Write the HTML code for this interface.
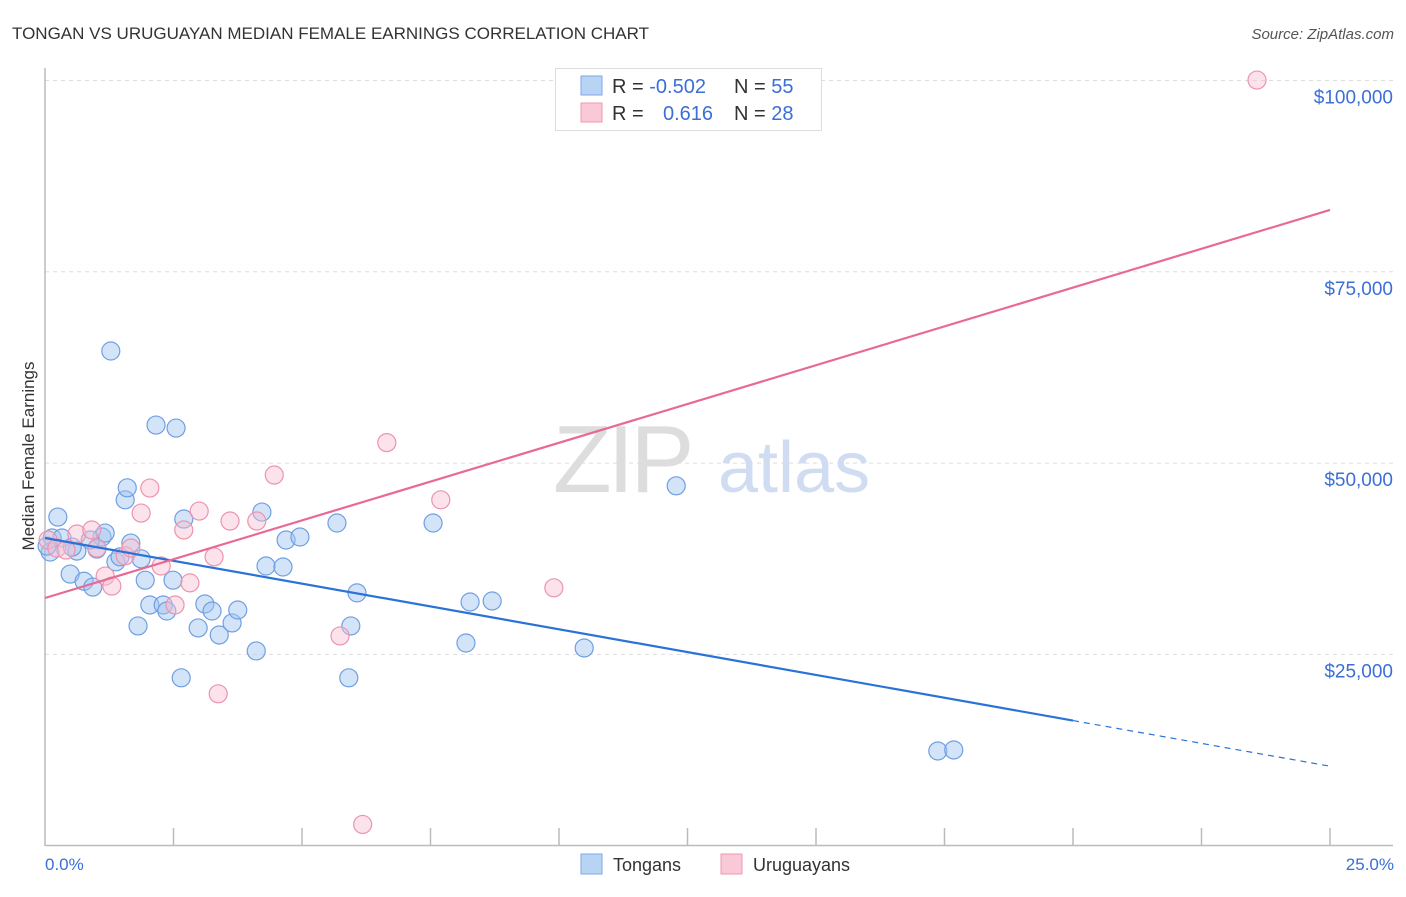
<!DOCTYPE html>
<html><head><meta charset="utf-8"><style>
body{margin:0;background:#fff;font-family:"Liberation Sans",sans-serif;}
svg text{font-family:"Liberation Sans",sans-serif;}
</style></head><body>
<svg id="chart" width="1406" height="892" viewBox="0 0 1406 892" xmlns="http://www.w3.org/2000/svg">
<text x="12" y="39" font-size="17" fill="#333">TONGAN VS URUGUAYAN MEDIAN FEMALE EARNINGS CORRELATION CHART</text>
<text x="1394" y="39" font-size="15" fill="#555" font-style="italic" text-anchor="end">Source: ZipAtlas.com</text>
<g id="grid"></g>
<g>
<text x="553" y="492" font-size="96" fill="#ddd" font-family="Liberation Serif" letter-spacing="-4">ZIP</text>
<text x="718" y="492" font-size="72" fill="#cfdcf2">atlas</text>
</g>
<line x1="45" y1="68" x2="45" y2="846" stroke="#bbb" stroke-width="1.5"/>
<line x1="45" y1="845.5" x2="1393" y2="845.5" stroke="#bbb" stroke-width="1.5"/>
<g id="xticks"></g>
<g id="ylabels"></g>
<text transform="translate(34,456) rotate(-90)" font-size="17" fill="#333" text-anchor="middle">Median Female Earnings</text>
<text x="45" y="870" font-size="17" fill="#3b6fd6">0.0%</text>
<text x="1394" y="870" font-size="17" fill="#3b6fd6" text-anchor="end">25.0%</text>
<g id="points"></g>
<g id="lines"></g>
<g>
<rect x="555.5" y="68.5" width="266" height="62" fill="#fff" stroke="#ddd"/>
<rect x="581" y="76" width="21" height="19" fill="#b9d3f5" stroke="#7ea7e6"/>
<rect x="581" y="103" width="21" height="19" fill="#f9c9d7" stroke="#ee97b0"/>
<text x="612" y="93" font-size="20" fill="#333">R = <tspan fill="#3b6fd6">-0.502</tspan></text>
<text x="734" y="93" font-size="20" fill="#333">N = <tspan fill="#3b6fd6">55</tspan></text>
<text x="612" y="120" font-size="20" fill="#333">R =</text>
<text x="663" y="120" font-size="20" fill="#3b6fd6">0.616</text>
<text x="734" y="120" font-size="20" fill="#333">N = <tspan fill="#3b6fd6">28</tspan></text>
</g>
<g>
<rect x="581" y="854" width="21" height="20" fill="#b9d3f5" stroke="#7ea7e6"/>
<text x="613" y="871" font-size="18" fill="#333">Tongans</text>
<rect x="721" y="854" width="21" height="20" fill="#f9c9d7" stroke="#ee97b0"/>
<text x="753" y="871" font-size="18" fill="#333">Uruguayans</text>
</g>
</svg>
<script>
const yTicks=[25000,50000,75000,100000];
const yTickLabels=["$25,000","$50,000","$75,000","$100,000"];
const xTicks=[2.5,5,7.5,10,12.5,15,17.5,20,22.5,25];
const tonganX=[0.14,0.25,0.10,0.33,0.49,0.62,0.76,0.93,1.01,1.11,1.17,1.28,1.38,1.46,1.56,1.60,1.67,1.81,1.87,1.95,2.04,2.16,2.30,2.37,2.49,2.55,2.65,2.70,2.98,3.11,3.25,3.39,3.64,3.75,4.11,4.22,4.30,4.63,4.69,4.96,5.68,5.91,5.95,6.07,7.55,8.19,8.27,8.70,10.49,12.28,17.37,17.68,0.04,0.53,0.88];
const tonganY=[40210,42950,38380,40210,35500,38500,34560,33800,38770,40340,40860,64650,37100,37750,45200,46770,39550,28720,37490,34700,31460,54970,31460,30670,34700,54580,21940,42690,28460,31590,30670,27540,29110,30800,25450,43600,36550,36420,39950,40340,42170,21940,28720,33040,42170,26490,31850,31980,25840,47030,12380,12510,39160,39030,39950];
const uruX=[0.06,0.23,0.41,0.62,0.91,1.01,1.17,1.30,1.56,1.67,1.87,2.04,2.26,2.53,2.70,2.82,3.00,3.29,3.37,3.60,4.12,4.46,5.74,6.18,6.65,7.70,9.90,23.58];
const uruY=[39950,38900,38640,40730,41260,38900,35240,33930,37880,38900,43470,46740,36550,31460,41260,34350,43730,37750,19850,42430,42430,48440,27410,2780,52680,45200,33700,100060];
const tonganFit=[40210,10390]; // at x=0 and x=25
const uruFit=[32370,83080];
const X=v=>45+v/25*1285;
const Y=v=>845.7-v/25000*191.3;
const NS="http://www.w3.org/2000/svg";
function mk(tag,attrs,parent){const e=document.createElementNS(NS,tag);for(const k in attrs)e.setAttribute(k,attrs[k]);parent.appendChild(e);return e;}
const grid=document.getElementById('grid'),yl=document.getElementById('ylabels'),xt=document.getElementById('xticks');
yTicks.forEach((t,i)=>{
 mk('line',{x1:45,x2:1393,y1:Y(t),y2:Y(t),stroke:'#ddd','stroke-dasharray':'4,4'},grid);
 const tx=mk('text',{x:1393,y:Y(t)+23,'font-size':19,fill:'#3b6fd6','text-anchor':'end'},yl);
 tx.textContent=yTickLabels[i];
 
 
});
xTicks.forEach(t=>{mk('line',{x1:X(t),x2:X(t),y1:828,y2:845,stroke:'#bbb','stroke-width':1.5},xt);});
const pts=document.getElementById('points');
tonganX.forEach((x,i)=>{
 const c=mk('circle',{cx:X(x),cy:Y(tonganY[i]),r:9,fill:'rgba(160,196,240,0.45)',stroke:'#6f9fe3','stroke-width':1.2},pts);
 
 
});
uruX.forEach((x,i)=>{
 const c=mk('circle',{cx:X(x),cy:Y(uruY[i]),r:9,fill:'rgba(248,190,208,0.45)',stroke:'#ec94ae','stroke-width':1.2},pts);
 
 
});
const ln=document.getElementById('lines');
const ty=x=>tonganFit[0]+(tonganFit[1]-tonganFit[0])*x/25;
const l1=mk('line',{x1:X(0),y1:Y(ty(0)),x2:X(20),y2:Y(ty(20)),stroke:'#2a72d8','stroke-width':2.2},ln);


const l2=mk('line',{x1:X(20),y1:Y(ty(20)),x2:X(25),y2:Y(ty(25)),stroke:'#2a72d8','stroke-width':1.2,'stroke-dasharray':'6,5'},ln);


const l3=mk('line',{x1:X(0),y1:Y(uruFit[0]),x2:X(25),y2:Y(uruFit[1]),stroke:'#e86a94','stroke-width':2.2},ln);


</script>
</body></html>
